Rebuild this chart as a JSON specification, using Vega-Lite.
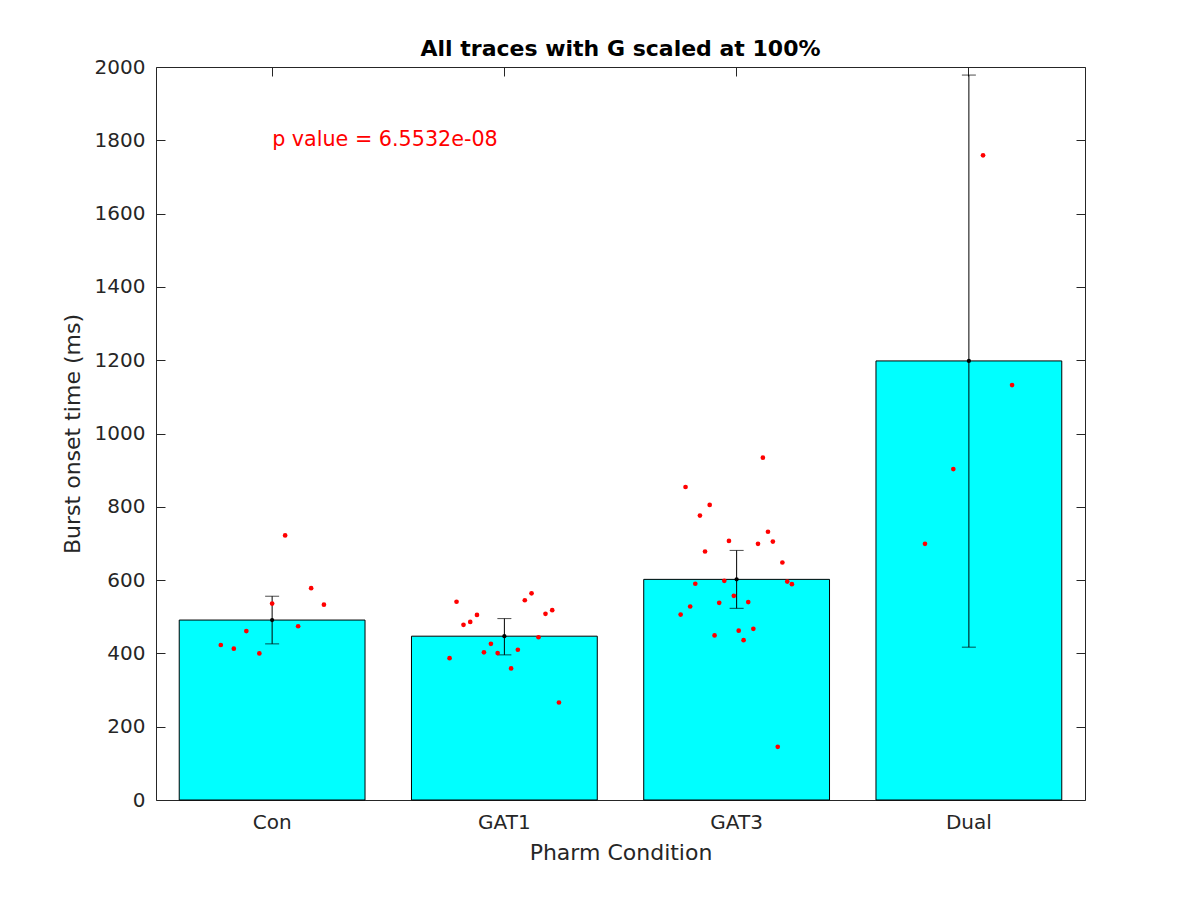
{
  "$schema": "https://vega.github.io/schema/vega-lite/v6.json",
  "autosize": "none",
  "width": 929,
  "height": 733,
  "padding": {"left": 156, "top": 67, "right": 115, "bottom": 100},
  "background": "white",
  "config": {
    "view": {"stroke": "#262626", "strokeWidth": 1},
    "font": "DejaVu Sans",
    "axis": {
      "grid": false,
      "domain": false,
      "tickColor": "#262626",
      "labelColor": "#262626",
      "titleColor": "#262626",
      "labelFont": "DejaVu Sans",
      "titleFont": "DejaVu Sans",
      "labelFontSize": 20,
      "titleFontSize": 22,
      "titleFontWeight": "normal",
      "tickSize": -9,
      "tickWidth": 1
    }
  },
  "title": {
    "text": "All traces with G scaled at 100%",
    "fontSize": 22,
    "fontWeight": "bold",
    "color": "black",
    "font": "DejaVu Sans",
    "anchor": "middle",
    "baseline": "alphabetic",
    "offset": -21
  },
  "datasets": {
    "summary": [
      {"cond": "Con", "mean": 491, "lo": 426, "hi": 556},
      {"cond": "GAT1", "mean": 447, "lo": 396, "hi": 495},
      {"cond": "GAT3", "mean": 602, "lo": 523, "hi": 681},
      {"cond": "Dual", "mean": 1198, "lo": 417, "hi": 1978}
    ],
    "trials": [
      {"cond": "Con", "value": 722, "jitter": 0.056},
      {"cond": "Con", "value": 578, "jitter": 0.168},
      {"cond": "Con", "value": 536, "jitter": 0.0},
      {"cond": "Con", "value": 533, "jitter": 0.223},
      {"cond": "Con", "value": 474, "jitter": 0.112},
      {"cond": "Con", "value": 461, "jitter": -0.111},
      {"cond": "Con", "value": 423, "jitter": -0.221},
      {"cond": "Con", "value": 413, "jitter": -0.165},
      {"cond": "Con", "value": 400, "jitter": -0.055},
      {"cond": "GAT1", "value": 541, "jitter": -0.206},
      {"cond": "GAT1", "value": 505, "jitter": -0.118},
      {"cond": "GAT1", "value": 486, "jitter": -0.147},
      {"cond": "GAT1", "value": 478, "jitter": -0.176},
      {"cond": "GAT1", "value": 545, "jitter": 0.088},
      {"cond": "GAT1", "value": 564, "jitter": 0.117},
      {"cond": "GAT1", "value": 508, "jitter": 0.177},
      {"cond": "GAT1", "value": 518, "jitter": 0.206},
      {"cond": "GAT1", "value": 444, "jitter": 0.147},
      {"cond": "GAT1", "value": 426, "jitter": -0.058},
      {"cond": "GAT1", "value": 403, "jitter": -0.088},
      {"cond": "GAT1", "value": 401, "jitter": -0.029},
      {"cond": "GAT1", "value": 410, "jitter": 0.058},
      {"cond": "GAT1", "value": 387, "jitter": -0.236},
      {"cond": "GAT1", "value": 359, "jitter": 0.029},
      {"cond": "GAT1", "value": 266, "jitter": 0.235},
      {"cond": "GAT3", "value": 934, "jitter": 0.113},
      {"cond": "GAT3", "value": 854, "jitter": -0.22},
      {"cond": "GAT3", "value": 805, "jitter": -0.116},
      {"cond": "GAT3", "value": 776, "jitter": -0.158},
      {"cond": "GAT3", "value": 732, "jitter": 0.135},
      {"cond": "GAT3", "value": 707, "jitter": -0.033},
      {"cond": "GAT3", "value": 699, "jitter": 0.092},
      {"cond": "GAT3", "value": 705, "jitter": 0.156},
      {"cond": "GAT3", "value": 678, "jitter": -0.136},
      {"cond": "GAT3", "value": 648, "jitter": 0.197},
      {"cond": "GAT3", "value": 590, "jitter": -0.178},
      {"cond": "GAT3", "value": 598, "jitter": -0.053},
      {"cond": "GAT3", "value": 596, "jitter": 0.218},
      {"cond": "GAT3", "value": 589, "jitter": 0.238},
      {"cond": "GAT3", "value": 557, "jitter": -0.012},
      {"cond": "GAT3", "value": 540, "jitter": 0.05},
      {"cond": "GAT3", "value": 538, "jitter": -0.075},
      {"cond": "GAT3", "value": 528, "jitter": -0.2},
      {"cond": "GAT3", "value": 506, "jitter": -0.241},
      {"cond": "GAT3", "value": 449, "jitter": -0.095},
      {"cond": "GAT3", "value": 462, "jitter": 0.009},
      {"cond": "GAT3", "value": 467, "jitter": 0.072},
      {"cond": "GAT3", "value": 436, "jitter": 0.03},
      {"cond": "GAT3", "value": 145, "jitter": 0.177},
      {"cond": "Dual", "value": 1759, "jitter": 0.061},
      {"cond": "Dual", "value": 1132, "jitter": 0.186},
      {"cond": "Dual", "value": 699, "jitter": -0.189},
      {"cond": "Dual", "value": 903, "jitter": -0.067}
    ]
  },
  "layer": [
    {
      "data": {"name": "summary"},
      "mark": {"type": "bar", "fill": "#00FFFF", "stroke": "black", "strokeWidth": 1},
      "encoding": {
        "x": {
          "field": "cond", "type": "nominal",
          "sort": ["Con", "GAT1", "GAT3", "Dual"],
          "scale": {"type": "band", "paddingInner": 0.2, "paddingOuter": 0.1},
          "axis": {"orient": "bottom", "title": "Pharm Condition", "labelAngle": 0, "labelPadding": 21, "titlePadding": 10}
        },
        "y": {
          "field": "mean", "type": "quantitative",
          "scale": {"domain": [0, 2000], "nice": false},
          "axis": {"orient": "left", "title": "Burst onset time (ms)", "format": "d", "values": [0, 200, 400, 600, 800, 1000, 1200, 1400, 1600, 1800, 2000], "labelPadding": 20, "titlePadding": 10}
        }
      }
    },
    {
      "data": {"name": "summary"},
      "mark": {"type": "rule", "color": "black", "strokeWidth": 1},
      "encoding": {
        "x": {"field": "cond", "type": "nominal", "sort": ["Con", "GAT1", "GAT3", "Dual"], "axis": null},
        "y": {"field": "lo", "type": "quantitative", "axis": null},
        "y2": {"field": "hi"}
      }
    },
    {
      "data": {"name": "summary"},
      "mark": {"type": "tick", "color": "black", "size": 14, "thickness": 1},
      "encoding": {
        "x": {"field": "cond", "type": "nominal", "sort": ["Con", "GAT1", "GAT3", "Dual"], "axis": null},
        "y": {"field": "lo", "type": "quantitative", "axis": null}
      }
    },
    {
      "data": {"name": "summary"},
      "mark": {"type": "tick", "color": "black", "size": 14, "thickness": 1},
      "encoding": {
        "x": {"field": "cond", "type": "nominal", "sort": ["Con", "GAT1", "GAT3", "Dual"], "axis": null},
        "y": {"field": "hi", "type": "quantitative", "axis": null}
      }
    },
    {
      "data": {"name": "summary"},
      "mark": {"type": "circle", "color": "black", "size": 18, "opacity": 1},
      "encoding": {
        "x": {"field": "cond", "type": "nominal", "sort": ["Con", "GAT1", "GAT3", "Dual"], "axis": null},
        "y": {"field": "mean", "type": "quantitative", "axis": null}
      }
    },
    {
      "data": {"name": "trials"},
      "mark": {"type": "circle", "color": "#FF0000", "size": 22, "opacity": 1},
      "encoding": {
        "x": {"field": "cond", "type": "nominal", "sort": ["Con", "GAT1", "GAT3", "Dual"], "axis": null},
        "xOffset": {"field": "jitter", "type": "quantitative", "scale": {"domain": [-0.4, 0.4]}},
        "y": {"field": "value", "type": "quantitative", "axis": null}
      }
    },
    {
      "data": {"values": [{"label": "p value = 6.5532e-08"}]},
      "mark": {"type": "text", "color": "#FF0000", "fontSize": 20.7, "font": "DejaVu Sans", "align": "left", "baseline": "middle"},
      "encoding": {
        "x": {"datum": "Con", "type": "nominal", "axis": null},
        "y": {"datum": 1800, "type": "quantitative", "axis": null},
        "text": {"field": "label"}
      }
    },
    {
      "data": {"name": "summary"},
      "mark": {"type": "point", "opacity": 0},
      "encoding": {
        "x": {
          "field": "cond", "type": "nominal", "sort": ["Con", "GAT1", "GAT3", "Dual"],
          "axis": {"orient": "top", "labels": false, "title": null}
        },
        "y": {
          "field": "mean", "type": "quantitative",
          "axis": {"orient": "right", "labels": false, "title": null, "values": [0, 200, 400, 600, 800, 1000, 1200, 1400, 1600, 1800, 2000]}
        }
      }
    }
  ],
  "resolve": {"axis": {"x": "independent", "y": "independent"}, "scale": {"xOffset": "independent"}}
}
